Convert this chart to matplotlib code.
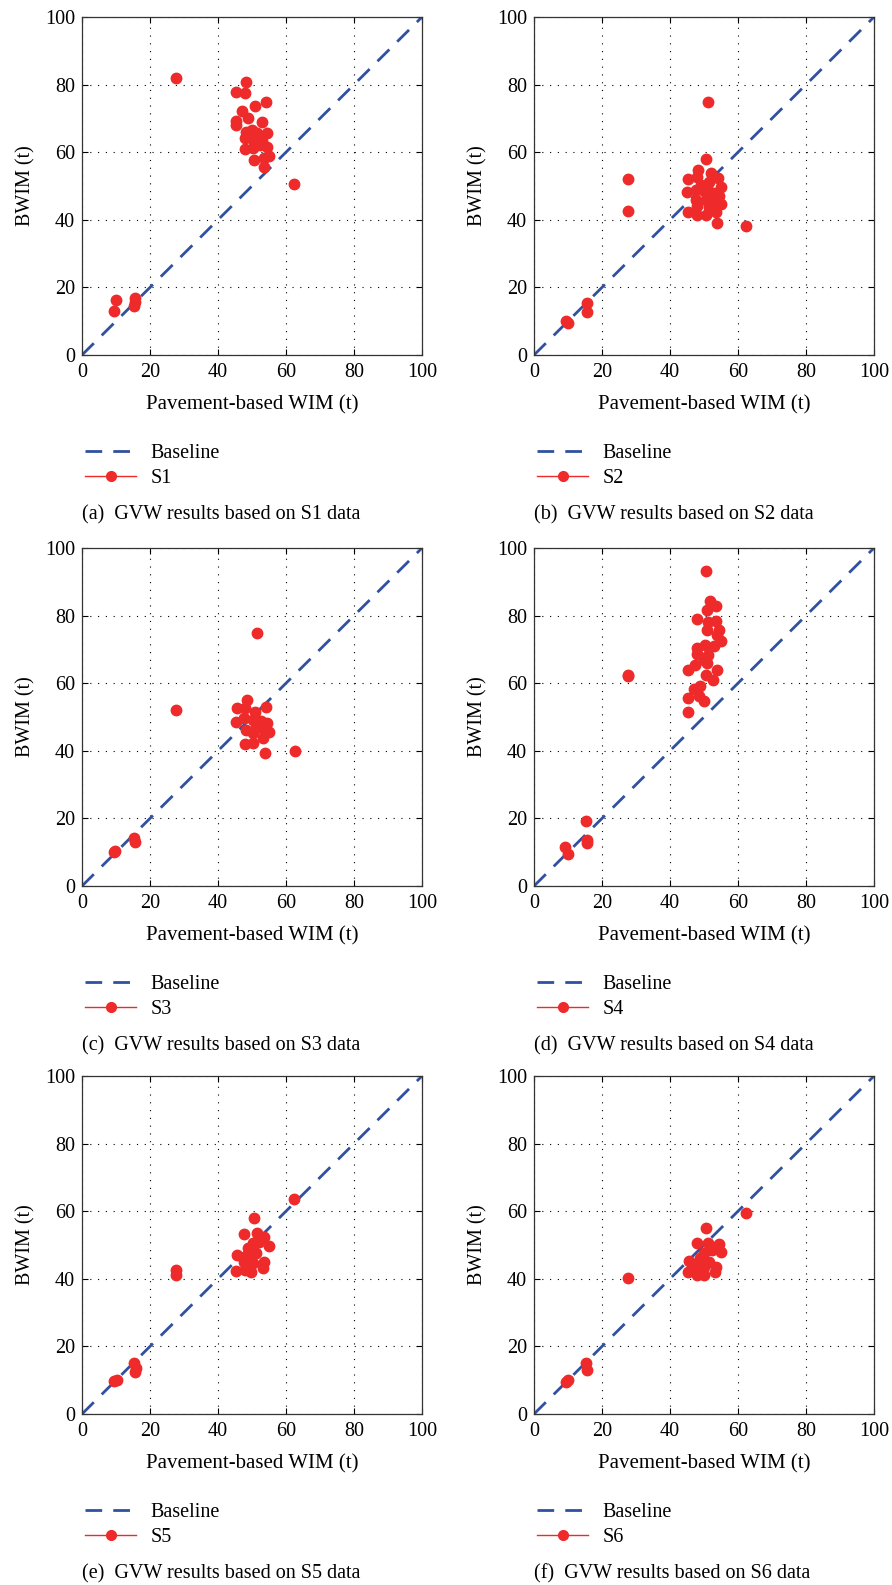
import numpy as np
import matplotlib
matplotlib.use('Agg')
from matplotlib import pyplot as plt
from matplotlib.lines import Line2D

plt.rcParams['font.family'] = ['Liberation Serif', 'DejaVu Serif']

# pavement-based WIM (x) and BWIM (y) in tonnes
s1_x = [27.6, 48.3, 45.4, 47.9, 54.2, 50.9, 47.2, 48.8, 45.2, 45.2, 52.9, 48.3, 50.0, 51.4,
        54.4, 47.9, 50.4, 52.9, 47.9, 50.4, 52.4, 54.4, 54.9, 53.4, 50.6, 53.4, 62.4,
        48.8, 50.8, 9.9, 9.3, 15.5, 15.5, 15.3]
s1_y = [82.1, 80.9, 77.9, 77.5, 74.8, 73.8, 72.1, 70.1, 69.3, 67.9, 68.8, 66.1, 66.6, 65.8,
        65.6, 64.2, 63.7, 63.2, 60.9, 61.2, 62.2, 61.5, 59.0, 58.2, 57.6, 55.5, 50.5,
        65.2, 64.7, 16.3, 13.1, 16.8, 15.6, 14.5]

s2_x = [51.3, 50.5, 27.6, 27.6, 48.3, 47.8, 45.4, 52.0, 54.1, 51.5, 54.9, 45.1, 47.5, 50.0,
        52.9, 54.4, 47.5, 50.5, 52.9, 54.9, 48.0, 51.5, 45.3, 47.8, 50.5, 53.4, 53.7, 62.3,
        49.0, 51.0, 15.5, 15.7, 9.3, 10.1]
s2_y = [74.8, 57.9, 52.0, 42.7, 54.8, 52.8, 52.2, 53.8, 52.3, 51.3, 49.7, 48.2, 48.9, 48.4,
        47.9, 47.1, 45.9, 45.9, 45.4, 44.6, 44.1, 43.9, 42.4, 41.5, 41.5, 42.3, 39.0, 38.3,
        50.3, 49.4, 15.5, 12.8, 10.1, 9.6]

s3_x = [51.4, 27.6, 48.4, 45.5, 48.0, 51.0, 54.1, 45.3, 47.7, 50.2, 52.7, 54.3, 48.2, 51.2,
        53.6, 55.1, 50.2, 53.1, 47.9, 50.4, 53.7, 62.5, 15.4, 15.7, 9.8, 9.3]
s3_y = [74.8, 52.1, 55.0, 52.8, 52.8, 51.6, 53.1, 48.6, 49.6, 49.1, 48.9, 48.3, 46.2, 46.6,
        46.2, 45.7, 45.2, 43.9, 42.0, 42.2, 39.4, 40.0, 14.1, 13.1, 10.5, 10.0]

s4_x = [50.6, 51.8, 53.6, 51.0, 47.9, 51.3, 53.6, 51.0, 54.3, 53.8, 55.1, 50.3, 52.8, 47.9,
        51.3, 47.9, 49.9, 50.8, 47.4, 45.4, 53.8, 50.6, 52.6, 48.7, 47.2, 48.4, 49.9, 45.4,
        45.4, 27.6, 27.6, 15.3, 15.6, 15.6, 9.2, 9.9]
s4_y = [93.2, 84.2, 82.9, 81.7, 79.0, 78.2, 78.5, 75.8, 75.8, 74.3, 72.6, 71.4, 70.9, 70.4,
        68.4, 68.7, 66.9, 65.9, 65.5, 63.8, 63.8, 62.5, 60.8, 59.3, 58.4, 56.1, 54.8, 55.6,
        51.5, 62.5, 62.0, 19.2, 13.6, 12.6, 11.6, 9.4]

s5_x = [62.3, 50.5, 47.7, 51.5, 53.6, 54.9, 52.2, 50.2, 48.7, 45.5, 48.2, 51.2, 47.7, 50.2,
        53.6, 45.3, 47.9, 49.7, 53.1, 49.2, 52.2, 27.6, 27.6, 15.4, 15.7, 15.9, 9.3, 10.2]
s5_y = [63.6, 57.9, 53.2, 53.5, 52.5, 49.6, 51.0, 50.5, 49.1, 47.1, 46.6, 47.6, 45.1, 44.6,
        45.1, 42.2, 42.6, 42.0, 43.3, 47.6, 52.5, 42.6, 41.2, 15.0, 12.5, 13.5, 9.8, 10.1]

s6_x = [62.4, 50.6, 47.9, 51.2, 54.3, 55.1, 52.4, 49.9, 48.9, 45.5, 51.4, 47.4, 53.6, 49.9,
        45.3, 47.9, 49.9, 53.3, 27.6, 15.3, 15.7, 9.4, 10.1]
s6_y = [59.4, 55.0, 50.7, 50.5, 50.2, 47.8, 48.6, 47.6, 46.1, 45.3, 45.1, 44.1, 43.4, 43.6,
        41.9, 41.2, 41.2, 42.0, 40.2, 15.0, 13.0, 9.6, 10.1]

series = [('S1', s1_x, s1_y), ('S2', s2_x, s2_y), ('S3', s3_x, s3_y),
          ('S4', s4_x, s4_y), ('S5', s5_x, s5_y), ('S6', s6_x, s6_y)]
letters = ['a', 'b', 'c', 'd', 'e', 'f']
ticks = [0, 20, 40, 60, 80, 100]

red = '#ee2a2a'
blue = '#3050a0'
dash = (0, (6, 4))

fig = plt.figure(figsize=(8.92, 15.85), dpi=100)
W, H = 892, 1585
lefts = [82, 534]
bottoms = [355, 886, 1414]  # pixel y of each row's x axis
aw, ah = 340, 338

for i, (name, xs, ys) in enumerate(series):
    col, row = i % 2, i // 2
    ax = fig.add_axes([lefts[col] / W, 1 - bottoms[row] / H, aw / W, ah / H])
    ax.plot([0, 100], [0, 100], color=blue, lw=2.0, ls=dash, zorder=2)
    ax.plot(xs, ys, 'o', color=red, ms=7.5, mec=red, zorder=3)
    ax.set_xlim(0, 100)
    ax.set_ylim(0, 100)
    ax.set_xticks(ticks)
    ax.set_yticks(ticks)
    ax.grid(True, color='black', ls=(0, (1, 6)), lw=0.8)
    ax.tick_params(direction='in', top=True, right=True, length=4, labelsize=14.5)
    ax.tick_params(axis='x', pad=6)
    ax.tick_params(axis='y', pad=5)
    for sp in ax.spines.values():
        sp.set_linewidth(0.9)
        sp.set_color('#333333')
    ax.set_xlabel('Pavement-based WIM (t)', fontsize=15, labelpad=9)
    ax.set_ylabel('BWIM (t)', fontsize=14.5, labelpad=7)

    handles = [Line2D([], [], color=blue, lw=2.0, ls=dash),
               Line2D([], [], color=red, lw=1.0, marker='o', ms=7, mec=red)]
    ax.legend(handles, ['Baseline', name], loc='upper left',
              bbox_to_anchor=(-0.015, -0.24), frameon=False, fontsize=14.5,
              handlelength=2.55, handletextpad=0.7, labelspacing=0.3, borderaxespad=0)
    ax.text(0.0, -0.472, '(%s)  GVW results based on %s data' % (letters[i], name),
            transform=ax.transAxes, fontsize=14.5, ha='left', va='center')

fig.savefig('out.png', dpi=100)
